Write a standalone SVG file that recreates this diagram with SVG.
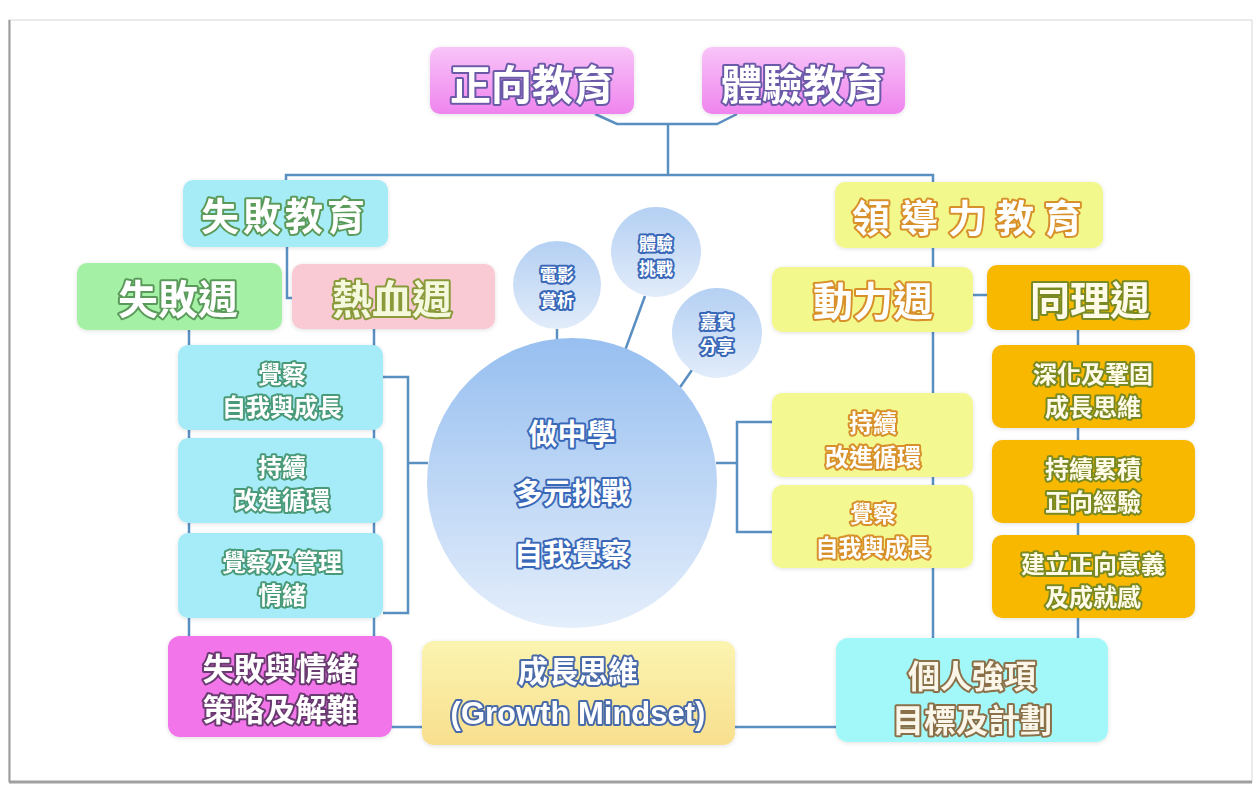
<svg xmlns="http://www.w3.org/2000/svg" width="1256" height="785" viewBox="0 0 1256 785">
<defs>
<linearGradient id="gPink" x1="0" y1="0" x2="0" y2="1"><stop offset="0" stop-color="#f8c4f8"/><stop offset="1" stop-color="#ef84ee"/></linearGradient>
<linearGradient id="gCircle" x1="0" y1="0" x2="0" y2="1"><stop offset="0" stop-color="#97bff0"/><stop offset="1" stop-color="#e4eefb"/></linearGradient>
<linearGradient id="gSmall" x1="0" y1="0" x2="0" y2="1"><stop offset="0" stop-color="#b4d0f3"/><stop offset="1" stop-color="#e2ecfa"/></linearGradient>
<linearGradient id="gGrowth" x1="0" y1="0" x2="0" y2="1"><stop offset="0" stop-color="#fbf4b0"/><stop offset="1" stop-color="#f8df8e"/></linearGradient>
<filter id="soft" x="-10%" y="-10%" width="120%" height="130%"><feDropShadow dx="0" dy="1" stdDeviation="2" flood-color="#000" flood-opacity="0.12"/></filter>
<style>
.ln{fill:none;stroke:#5a8fc2;stroke-width:2.5;stroke-linejoin:miter}
.t{font-family:"Noto Sans CJK TC","Noto Sans CJK SC",sans-serif;font-weight:700;text-anchor:middle;dominant-baseline:central;fill:#ffffff;paint-order:stroke;stroke-width:4;stroke-linejoin:round}
.en{font-family:"Liberation Sans","Noto Sans CJK TC",sans-serif}
.sPurple{stroke:#6a5aa8}
.sGreen{stroke:#5a9a5a}
.sOlive{stroke:#8a9a3a;fill:#f4f8dc}
.sOrange{stroke:#d8902a}
.sOlive2{stroke:#7a8a22;fill:#fffbe8}
.sTeal{stroke:#4a9a78}
.sDark{stroke:#6a3a70}
.sBlue{stroke:#4a6aa8}
.sBrown{stroke:#8a7048;fill:#fbf6ea}
.sCirc{stroke:#3a68b8}
</style>
</defs>
<rect x="0" y="0" width="1256" height="785" fill="#ffffff"/>
<rect x="9" y="20" width="1243" height="762" fill="#ffffff" stroke="#d8d8d8" stroke-width="1"/>
<line x1="9.5" y1="20" x2="9.5" y2="782" stroke="#9a9a9a" stroke-width="2"/>
<line x1="9" y1="782" x2="1252" y2="782" stroke="#a0a0a0" stroke-width="3"/>

<g id="connectors">
<path class="ln" d="M595,114 L617,124 H717 L737,114"/>
<path class="ln" d="M668,124 V175"/>
<path class="ln" d="M286,182 V175 H933 V182"/>
<path class="ln" d="M287,247 V298 H292"/>
<path class="ln" d="M189,330 V636"/>
<path class="ln" d="M374,329 V636"/>
<path class="ln" d="M383,377 H408 V613 H383"/>
<path class="ln" d="M408,463 H428"/>
<path class="ln" d="M933,248 V638"/>
<path class="ln" d="M973,295 H987"/>
<path class="ln" d="M1078,330 V638"/>
<path class="ln" d="M772,422 H737 V532 H772"/>
<path class="ln" d="M716,463 H737"/>
<path class="ln" d="M363,727 H836"/>
<path class="ln" d="M557,329 V340"/>
<path class="ln" d="M645,296 L623,356"/>
<path class="ln" d="M692,370 L676,393"/>
</g>

<g id="n-zhengxiang" filter="url(#soft)"><rect x="430" y="47" width="204" height="67" rx="10" fill="url(#gPink)"/><text class="t sPurple" x="532" y="82" font-size="41">正向教育</text></g>
<g id="n-tiyan" filter="url(#soft)"><rect x="702" y="47" width="203" height="67" rx="10" fill="url(#gPink)"/><text class="t sPurple" x="803" y="82" font-size="41">體驗教育</text></g>

<g id="n-shibai-edu" filter="url(#soft)"><rect x="183" y="180" width="205" height="67" rx="10" fill="#a6ecf7"/><text class="t sGreen" x="285" y="213" font-size="38" letter-spacing="4">失敗教育</text></g>
<g id="n-lingdao" filter="url(#soft)"><rect x="835" y="182" width="268" height="66" rx="10" fill="#f2f88c"/><text class="t sOrange" x="972" y="215" font-size="38" letter-spacing="10">領導力教育</text></g>

<g id="n-shibaizhou" filter="url(#soft)"><rect x="77" y="263" width="205" height="67" rx="10" fill="#a4f0a4"/><text class="t sGreen" x="178" y="297" font-size="40">失敗週</text></g>
<g id="n-rexue" filter="url(#soft)"><rect x="292" y="264" width="203" height="65" rx="10" fill="#f9cad4"/><text class="t sOlive" x="392" y="297" font-size="40">熱血週</text></g>
<g id="n-dongli" filter="url(#soft)"><rect x="772" y="267" width="201" height="65" rx="10" fill="#f2f88c"/><text class="t sOrange" x="873" y="299" font-size="40">動力週</text></g>
<g id="n-tongli" filter="url(#soft)"><rect x="987" y="265" width="203" height="65" rx="10" fill="#f8b800"/><text class="t sOlive2" x="1090" y="298" font-size="40">同理週</text></g>

<g id="n-l1" filter="url(#soft)"><rect x="178" y="345" width="205" height="85" rx="10" fill="#a6ecf8"/><text class="t sTeal" x="282" y="372" font-size="24">覺察</text><text class="t sTeal" x="282" y="405" font-size="24">自我與成長</text></g>
<g id="n-l2" filter="url(#soft)"><rect x="178" y="438" width="205" height="85" rx="10" fill="#a6ecf8"/><text class="t sTeal" x="282" y="465" font-size="24">持續</text><text class="t sTeal" x="282" y="498" font-size="24">改進循環</text></g>
<g id="n-l3" filter="url(#soft)"><rect x="178" y="533" width="205" height="85" rx="10" fill="#a6ecf8"/><text class="t sTeal" x="282" y="560" font-size="24">覺察及管理</text><text class="t sTeal" x="282" y="593" font-size="24">情緒</text></g>

<g id="n-center"><circle cx="572" cy="483" r="145" fill="url(#gCircle)"/><text class="t sCirc" x="572" y="432" font-size="29">做中學</text><text class="t sCirc" x="572" y="491" font-size="29">多元挑戰</text><text class="t sCirc" x="572" y="552" font-size="29">自我覺察</text></g>

<g id="n-film"><circle cx="557" cy="285" r="44" fill="url(#gSmall)"/><text class="t sCirc" x="557" y="273" font-size="17" stroke-width="3">電影</text><text class="t sCirc" x="557" y="299" font-size="17" stroke-width="3">賞析</text></g>
<g id="n-challenge"><circle cx="656" cy="252" r="45" fill="url(#gSmall)"/><text class="t sCirc" x="656" y="242" font-size="17" stroke-width="3">體驗</text><text class="t sCirc" x="656" y="267" font-size="17" stroke-width="3">挑戰</text></g>
<g id="n-guest"><circle cx="717" cy="333" r="45" fill="url(#gSmall)"/><text class="t sCirc" x="717" y="320" font-size="17" stroke-width="3">嘉賓</text><text class="t sCirc" x="717" y="345" font-size="17" stroke-width="3">分享</text></g>

<g id="n-r1" filter="url(#soft)"><rect x="772" y="393" width="201" height="84" rx="10" fill="#f3f890"/><text class="t sOrange" x="873" y="421" font-size="24">持續</text><text class="t sOrange" x="873" y="455" font-size="24">改進循環</text></g>
<g id="n-r2" filter="url(#soft)"><rect x="772" y="485" width="201" height="83" rx="10" fill="#f3f890"/><text class="t sOrange" x="873" y="512" font-size="23">覺察</text><text class="t sOrange" x="873" y="546" font-size="23">自我與成長</text></g>

<g id="n-o1" filter="url(#soft)"><rect x="992" y="345" width="203" height="83" rx="10" fill="#f8b800"/><text class="t sOlive2" x="1093" y="372" font-size="24">深化及鞏固</text><text class="t sOlive2" x="1093" y="405" font-size="24">成長思維</text></g>
<g id="n-o2" filter="url(#soft)"><rect x="992" y="440" width="203" height="83" rx="10" fill="#f8b800"/><text class="t sOlive2" x="1093" y="467" font-size="24">持續累積</text><text class="t sOlive2" x="1093" y="500" font-size="24">正向經驗</text></g>
<g id="n-o3" filter="url(#soft)"><rect x="992" y="535" width="203" height="83" rx="10" fill="#f8b800"/><text class="t sOlive2" x="1093" y="562" font-size="24">建立正向意義</text><text class="t sOlive2" x="1093" y="595" font-size="24">及成就感</text></g>

<g id="n-strategy" filter="url(#soft)"><rect x="168" y="636" width="224" height="101" rx="12" fill="#f274ea"/><text class="t sDark" x="280" y="666" font-size="31">失敗與情緒</text><text class="t sDark" x="280" y="707" font-size="31">策略及解難</text></g>
<g id="n-growth" filter="url(#soft)"><rect x="422" y="641" width="313" height="104" rx="12" fill="url(#gGrowth)"/><text class="t sBlue" x="578" y="669" font-size="30">成長思維</text><text class="t en sBlue" x="578" y="713" font-size="31">(Growth Mindset)</text></g>
<g id="n-strength" filter="url(#soft)"><rect x="836" y="638" width="272" height="104" rx="12" fill="#a2f8f8"/><text class="t sBrown" x="972" y="674" font-size="32">個人強項</text><text class="t sBrown" x="972" y="718" font-size="32">目標及計劃</text></g>
</svg>
